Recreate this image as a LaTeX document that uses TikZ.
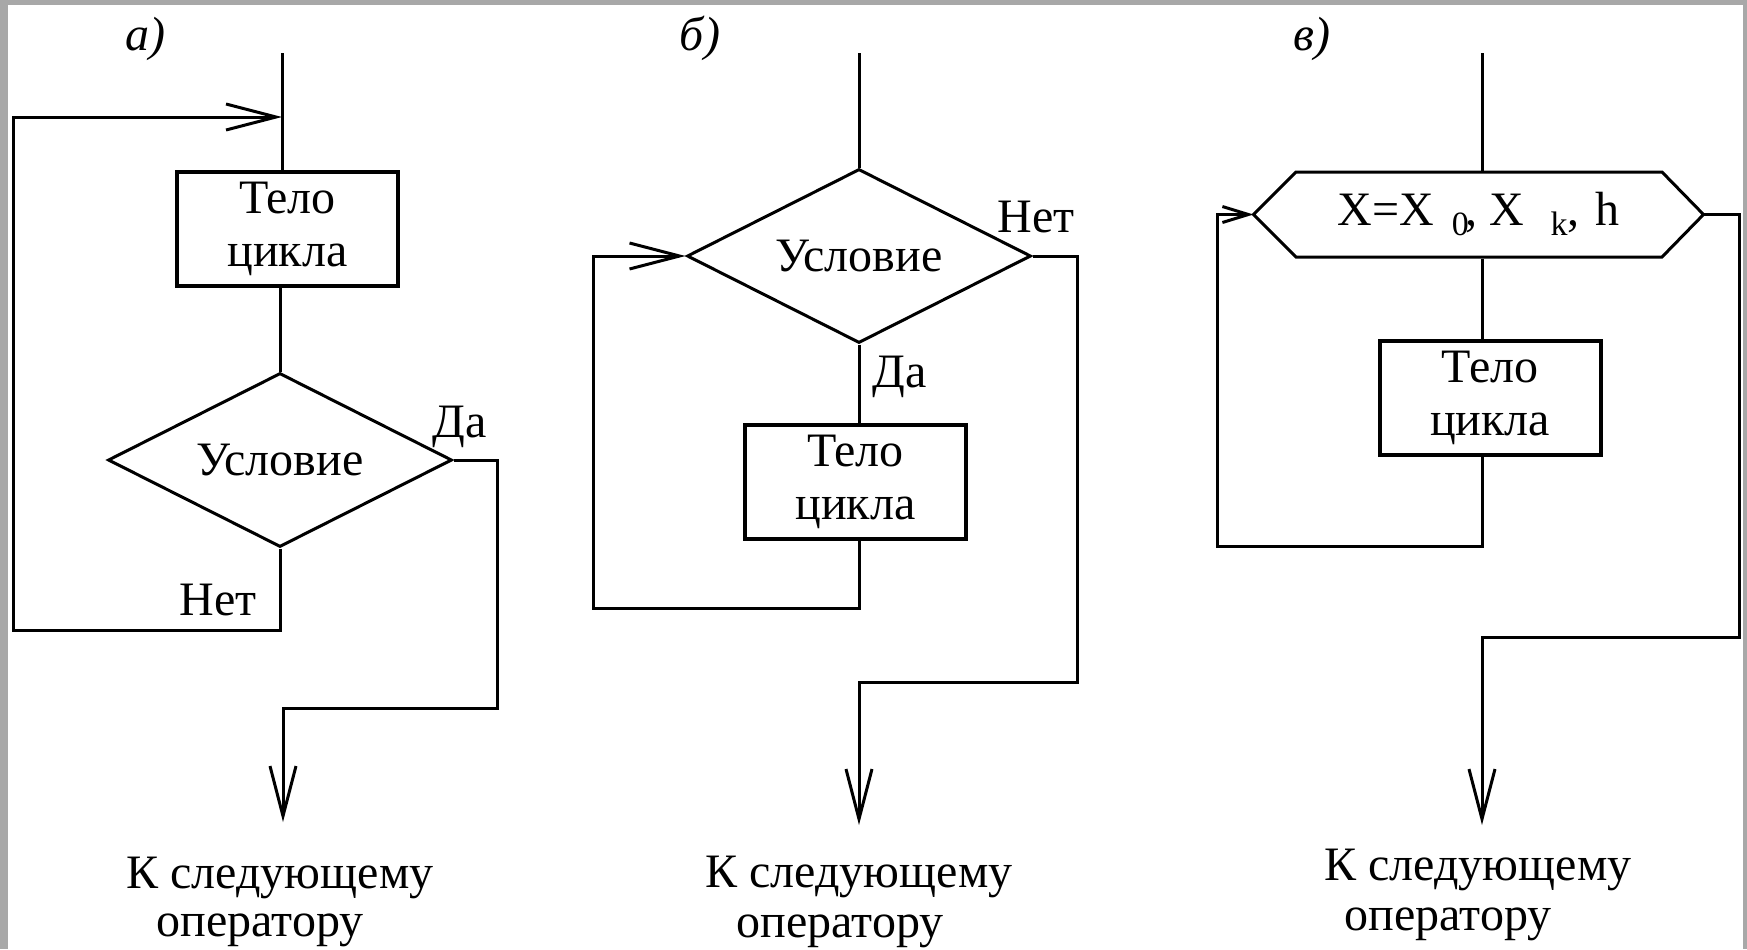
\documentclass[tikz,border=0pt]{standalone}
\usepackage{fontspec}
\setmainfont{Liberation Serif}
\usetikzlibrary{arrows.meta,shapes.geometric}
\definecolor{framegray}{HTML}{A8A8A8}
\begin{document}
\begin{tikzpicture}[x=0.5pt,y=-0.5pt,line width=1.5pt,
  txt/.style={font=\fontsize{24}{26.5}\selectfont},
  proc/.style={txt,draw,line width=2pt,minimum width=110.5pt,minimum height=57pt,inner sep=0pt,align=center},
  cond/.style={txt,draw,diamond,aspect=2,inner sep=0pt,minimum width=172pt,minimum height=87pt},
  hexn/.style={txt,inner sep=0pt,minimum width=223.5pt,minimum height=42.5pt},
  lbl/.style={txt,anchor=base,inner sep=0pt},
  arr/.style={-{Straight Barb[length=25pt,width=13pt]}},
  arrsmall/.style={-{Straight Barb[length=13pt,width=8pt]}}]
\useasboundingbox (0,0) rectangle (1747,949);
\fill[framegray] (0,0) rectangle (1747,949);
\fill[white] (8,5) rectangle (1743,949);

% panel a
\node[lbl,font=\fontsize{24}{26}\selectfont\itshape] (la) at (145,50) {а)};
\coordinate (a0) at (282,53);
\node[proc] (a1) at (287.5,229) {Тело\\цикла};
\node[cond] (a2) at (280,460) {Условие};
\node[lbl] (a3) at (460,437) {Да};
\node[lbl] (a4) at (218,615) {Нет};
\coordinate (a5) at (497,708);
\coordinate (a6) at (283,822);
\coordinate (a9) at (13,630);
\coordinate (a10) at (13,117);
\node[lbl] (a7) at (280,888) {К следующему};
\node[lbl] (a8) at (260,936) {оператору};
\draw (a0) -- (a0 |- a1.north);
\draw (a1.south -| a2.north) -- (a2.north);
\draw[arr] (a2.east) -| (a5) -| (a6);
\draw[arr] (a2.south) |- (a9) -- (a10) -- (a10 -| a0);

% panel b
\node[lbl,font=\fontsize{24}{26}\selectfont\itshape] (lb) at (700,50) {б)};
\coordinate (b0) at (859,53);
\node[cond] (b1) at (859,256) {Условие};
\node[proc] (b2) at (855.5,481.5) {Тело\\цикла};
\node[lbl] (b3) at (900,387) {Да};
\node[lbl] (b4) at (1036,232) {Нет};
\coordinate (b5) at (1077,682);
\coordinate (b6) at (859,825);
\coordinate (b7) at (593,608);
\node[lbl] (b8) at (859,887) {К следующему};
\node[lbl] (b9) at (840,937) {оператору};
\draw (b0) -- (b1.north);
\draw (b1.south) -- (b1.south |- b2.north);
\draw[arr] (b1.east) -| (b5) -| (b6);
\draw[arr] (b1.south |- b2.south) |- (b7) |- (b1.west);

% panel c
\node[lbl,font=\fontsize{24}{26}\selectfont\itshape] (lc) at (1312,50) {в)};
\coordinate (c0) at (1482,53);
\node[hexn] (c1) at (1478.5,214.5) {X=X\hspace{9pt}\raisebox{-5pt}{\fontsize{17}{17}\selectfont 0}\hspace{-1.5pt},\hspace{6pt}X\hspace{13pt}\raisebox{-5pt}{\fontsize{17}{17}\selectfont k},\hspace{8pt}h};
\draw (c1.west) -- (1296,172) -- (1662,172) -- (c1.east) -- (1662,257) -- (1296,257) -- cycle;
\node[proc] (c2) at (1490,398) {Тело\\цикла};
\coordinate (c3) at (1739,637);
\coordinate (c4) at (1482,825);
\coordinate (c5) at (1217,546);
\node[lbl] (c6) at (1478,880) {К следующему};
\node[lbl] (c7) at (1448,930) {оператору};
\draw (c0) -- (c0 |- c1.north);
\draw (c0 |- c1.south) -- (c0 |- c2.north);
\draw[arr] (c1.east) -| (c3) -| (c4);
\draw[arrsmall] (c0 |- c2.south) |- (c5) |- (c1.west);
\end{tikzpicture}
\end{document}
